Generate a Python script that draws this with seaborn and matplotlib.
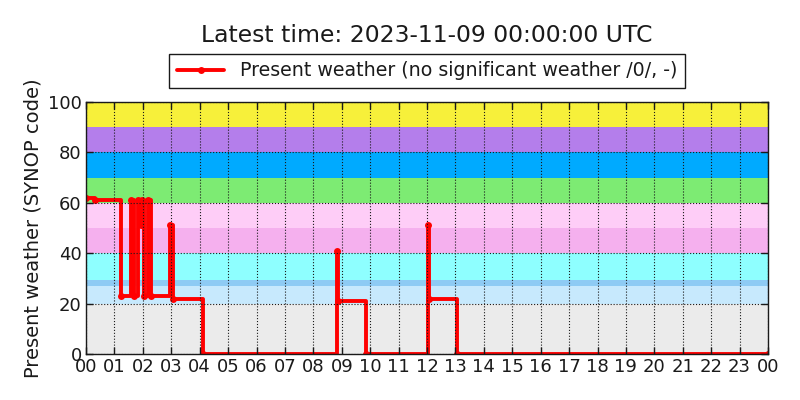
import matplotlib
matplotlib.use("Agg")
import matplotlib.pyplot as plt
import seaborn as sns
import pandas as pd

# Present weather observations (change points, hours since 00 UTC)
hours = [0.0, 0.33, 1.22, 1.57, 1.69, 1.83, 1.93, 1.97, 2.03, 2.19, 2.30,
         2.96, 3.07, 4.12, 8.84, 8.86, 9.87, 12.04, 12.06, 13.04, 24.0]
ww_code = [62, 61, 23, 61, 23, 61, 51, 61, 23, 61, 23,
           51, 22, 0, 41, 21, 0, 51, 22, 0, 0]

hour_labels = ["%02d" % h for h in range(24)] + ["00"]

# SYNOP code background bands
band_low = [0, 20, 27, 29.5, 40, 50, 60, 70, 80, 90]
band_high = [20, 27, 29.5, 40, 50, 60, 70, 80, 90, 100]
band_colors = ["#ebebeb", "#c7e9fd", "#8ecbf4", "#8effff", "#f5b0ee",
               "#fecdf7", "#7deb73", "#00aaff", "#b47eeb", "#f7f03a"]

sns.set_theme(style="ticks")
plt.rcParams["font.family"] = ["DejaVu Sans"]
plt.rcParams["xtick.direction"] = "in"
plt.rcParams["ytick.direction"] = "in"
plt.rcParams["text.color"] = "k"
plt.rcParams["axes.labelcolor"] = "k"
plt.rcParams["xtick.labelcolor"] = "k"
plt.rcParams["ytick.labelcolor"] = "k"

df = pd.DataFrame({"hour": hours, "ww": ww_code})

fig = plt.figure(figsize=(8, 4), dpi=100)
ax = fig.add_axes([0.1075, 0.115, 0.8525, 0.63])

for lo, hi, c in zip(band_low, band_high, band_colors):
    ax.axhspan(lo, hi, color=c, lw=0, zorder=0.5)

sns.lineplot(data=df, x="hour", y="ww", ax=ax, color="red", lw=2.8,
             marker=".", markersize=10, markeredgewidth=0,
             drawstyle="steps-post", estimator=None,
             label="Present weather (no significant weather /0/, -)")

ax.set_xlim(0, 24)
ax.set_ylim(0, 100)
ax.set_xticks(range(25))
ax.set_xticklabels(hour_labels)
ax.set_yticks(range(0, 101, 20))
ax.tick_params(labelsize=13, top=True, right=True, length=5, width=1,
               color="k", pad=3)
ax.set_axisbelow(False)
ax.grid(True, ls=":", color="k", lw=0.8, zorder=1)
for s in ax.spines.values():
    s.set_linewidth(1.0)
    s.set_color("k")

ax.set_xlabel("")
ax.set_ylabel("Present weather (SYNOP code)", fontsize=14)
fig.text(0.534, 0.912, "Latest time: 2023-11-09 00:00:00 UTC",
         fontsize=16.9, ha="center", va="center")
ax.legend(loc="lower center", bbox_to_anchor=(0.5, 1.018), fontsize=13.7,
          frameon=True, fancybox=False, edgecolor="k", framealpha=1,
          handlelength=2.5, borderpad=0.4)

fig.savefig("out.png", dpi=100)
